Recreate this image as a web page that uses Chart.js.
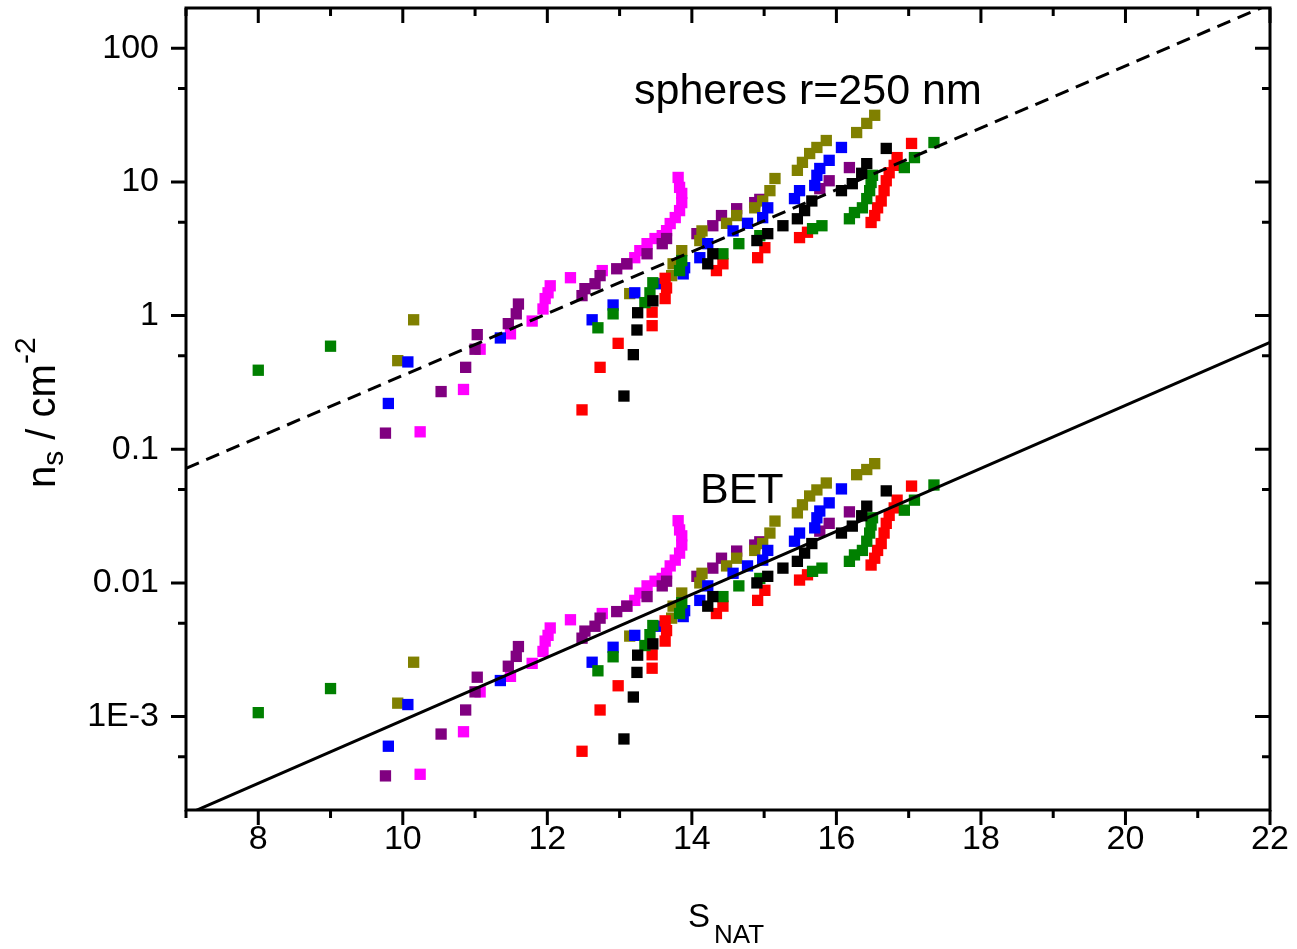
<!DOCTYPE html>
<html>
<head>
<meta charset="utf-8">
<script src="https://cdn.jsdelivr.net/npm/chart.js@4.4.1/dist/chart.umd.min.js"></script>
<style>
  html, body { margin: 0; padding: 0; background: #fff; }
  #wrap { width: 1297px; height: 949px; }
</style>
</head>
<body>
<div id="wrap"><canvas id="chart"></canvas></div>
<script>
// S_NAT values and n_s for spheres (top cluster) and BET (bottom cluster)
const greenX = [8.0, 9.0, 12.7, 12.91, 13.35, 13.42, 13.46, 13.83, 13.86, 14.43, 14.65, 14.94, 15.67, 15.8, 16.18, 16.25, 16.36, 16.42, 16.46, 16.48, 16.5, 16.94, 17.08, 17.35];
const greenSph = [0.39, 0.59, 0.81, 1.03, 1.25, 1.48, 1.76, 2.17, 2.58, 2.9, 3.45, 3.96, 4.47, 4.7, 5.3, 5.9, 6.4, 7.5, 8.6, 9.9, 11.2, 12.8, 15.2, 19.7];
const greenBet = [1.07e-3, 1.62e-3, 2.2e-3, 2.8e-3, 3.4e-3, 4.1e-3, 4.8e-3, 5.9e-3, 7.1e-3, 7.9e-3, 9.5e-3, 0.0108, 0.0122, 0.0129, 0.0145, 0.0162, 0.0175, 0.0205, 0.0236, 0.0271, 0.0307, 0.035, 0.0416, 0.054];

const magentaX = [10.24, 10.84, 11.07, 11.49, 11.79, 11.94, 11.97, 12.01, 12.04, 12.32, 12.76, 13.10, 13.21, 13.28, 13.38, 13.49, 13.59, 13.65, 13.70, 13.77, 13.83, 13.86, 13.86, 13.83, 13.81];
const magentaSph = [0.135, 0.28, 0.56, 0.73, 0.91, 1.12, 1.34, 1.48, 1.67, 1.92, 2.17, 2.44, 2.71, 3.06, 3.45, 3.77, 3.96, 4.32, 4.88, 5.41, 6.1, 7.0, 8.2, 9.1, 10.8];
const magentaBet = [3.7e-4, 7.7e-4, 1.53e-3, 2.0e-3, 2.5e-3, 3.07e-3, 3.67e-3, 4.05e-3, 4.6e-3, 5.3e-3, 5.9e-3, 6.7e-3, 7.4e-3, 8.4e-3, 9.5e-3, 0.0103, 0.0108, 0.0118, 0.0134, 0.0148, 0.0167, 0.0192, 0.0225, 0.0249, 0.0292];

const purpleX = [9.76, 10.53, 10.87, 11.0, 11.03, 11.46, 11.57, 11.6, 12.48, 12.52, 12.66, 12.73, 12.96, 13.10, 13.38, 13.59, 13.65, 14.07, 14.29, 14.41, 14.62, 14.87, 14.94, 15.77, 15.9, 16.18];
const purpleSph = [0.132, 0.27, 0.41, 0.56, 0.72, 0.87, 1.03, 1.22, 1.41, 1.59, 1.73, 1.99, 2.24, 2.44, 2.9, 3.45, 3.77, 4.1, 4.7, 5.6, 6.3, 7.0, 7.4, 8.9, 10.2, 12.8];
const purpleBet = [3.6e-4, 7.4e-4, 1.12e-3, 1.53e-3, 1.97e-3, 2.38e-3, 2.82e-3, 3.34e-3, 3.86e-3, 4.36e-3, 4.74e-3, 5.45e-3, 6.1e-3, 6.7e-3, 7.9e-3, 9.5e-3, 0.0103, 0.0112, 0.0129, 0.0153, 0.0173, 0.0192, 0.0203, 0.0244, 0.0279, 0.034];

const blueX = [9.80, 10.07, 11.35, 12.62, 12.91, 13.21, 13.53, 13.88, 13.9, 14.11, 14.22, 14.57, 14.77, 14.98, 15.05, 15.42, 15.49, 15.70, 15.73, 15.77, 15.9, 16.07];
const blueSph = [0.22, 0.45, 0.68, 0.93, 1.2, 1.48, 1.73, 2.05, 2.28, 2.71, 3.45, 4.3, 4.9, 5.4, 6.4, 7.5, 8.6, 9.4, 11.2, 12.6, 14.5, 18.1];
const blueBet = [6.0e-4, 1.23e-3, 1.86e-3, 2.55e-3, 3.3e-3, 4.05e-3, 4.74e-3, 5.6e-3, 6.2e-3, 7.4e-3, 9.5e-3, 0.0118, 0.0134, 0.0148, 0.0175, 0.0205, 0.0236, 0.0258, 0.0307, 0.0345, 0.0397, 0.0505];

const oliveX = [9.93, 10.15, 13.14, 13.72, 13.74, 13.86, 14.11, 14.14, 14.48, 14.62, 14.87, 14.98, 15.08, 15.15, 15.46, 15.53, 15.63, 15.73, 15.86, 16.28, 16.42, 16.53];
const oliveSph = [0.46, 0.93, 1.46, 1.99, 2.44, 3.06, 3.64, 4.3, 4.9, 5.6, 6.4, 7.2, 8.6, 10.6, 12.2, 14, 16.3, 18.1, 20.4, 23.4, 27.4, 31.5];
const oliveBet = [1.26e-3, 2.55e-3, 4.0e-3, 5.45e-3, 6.7e-3, 8.4e-3, 0.01, 0.0118, 0.0134, 0.0153, 0.0175, 0.0197, 0.0236, 0.029, 0.0334, 0.0384, 0.0447, 0.0496, 0.0559, 0.0645, 0.0705, 0.078];

const blackX = [13.06, 13.19, 13.24, 13.25, 13.46, 14.22, 14.29, 14.9, 15.05, 15.26, 15.46, 15.56, 15.66, 16.07, 16.22, 16.35, 16.42, 16.69];
const blackSph = [0.25, 0.51, 0.78, 1.05, 1.29, 2.44, 2.9, 3.64, 4.1, 4.7, 5.3, 6.1, 7.2, 8.6, 9.7, 11.6, 13.7, 17.8];
const blackBet = [6.8e-4, 1.4e-3, 2.14e-3, 2.88e-3, 3.5e-3, 6.7e-3, 7.9e-3, 0.01, 0.0112, 0.0129, 0.0145, 0.0167, 0.0197, 0.0236, 0.0266, 0.0318, 0.0375, 0.0488];

const redX = [12.48, 12.73, 12.98, 13.45, 13.45, 13.63, 13.65, 13.63, 14.34, 14.43, 14.91, 15.01, 15.49, 15.6, 16.48, 16.53, 16.57, 16.62, 16.66, 16.69, 16.73, 16.8, 16.84, 17.04];
const redSph = [0.197, 0.41, 0.62, 0.84, 1.06, 1.34, 1.61, 1.9, 2.17, 2.44, 2.71, 3.22, 3.83, 4.2, 4.97, 5.6, 6.4, 7.2, 8.6, 10.2, 11.7, 13.3, 15.2, 19.4];
const redBet = [5.5e-4, 1.12e-3, 1.7e-3, 2.3e-3, 2.9e-3, 3.67e-3, 4.4e-3, 5.2e-3, 5.9e-3, 6.7e-3, 7.4e-3, 8.8e-3, 0.0105, 0.0115, 0.0136, 0.0153, 0.0175, 0.0197, 0.0236, 0.0279, 0.032, 0.0364, 0.0416, 0.053];

// fitted lines (end points)
const sphereLineX = [7, 22];
const sphereLineY = [0.072, 214];
const betLineX = [7, 22];
const betLineY = [1.84e-4, 0.63];

// axes
const xMin = 7, xMax = 22;
const yMin = 2e-4, yMax = 200;
const xTicks = [8, 10, 12, 14, 16, 18, 20, 22];
const xMinorTicks = [7, 9, 11, 13, 15, 17, 19, 21];
const yTicks = [1e-3, 0.01, 0.1, 1, 10, 100];
const yTickLabels = ['1E-3', '0.01', '0.1', '1', '10', '100'];
const yMinorTicks = [5e-4, 5e-3, 0.05, 0.5, 5, 50];

const FONT = '"Liberation Sans", Arial, sans-serif';

const series = [
  { color: '#000000', x: blackX, sph: blackSph, bet: blackBet },
  { color: '#008000', x: greenX, sph: greenSph, bet: greenBet },
  { color: '#FF0000', x: redX, sph: redSph, bet: redBet },
  { color: '#0000FF', x: blueX, sph: blueSph, bet: blueBet },
  { color: '#808000', x: oliveX, sph: oliveSph, bet: oliveBet },
  { color: '#800080', x: purpleX, sph: purpleSph, bet: purpleBet },
  { color: '#FF00FF', x: magentaX, sph: magentaSph, bet: magentaBet }
];

function toPoints(xs, ys) {
  return xs.map((x, i) => ({ x: x, y: ys[i] }));
}

const datasets = [
  {
    type: 'line', data: toPoints(sphereLineX, sphereLineY),
    borderColor: '#000', borderWidth: 3, borderDash: [14, 8],
    pointRadius: 0, fill: false
  },
  {
    type: 'line', data: toPoints(betLineX, betLineY),
    borderColor: '#000', borderWidth: 3,
    pointRadius: 0, fill: false
  }
];
series.forEach(s => {
  [s.sph, s.bet].forEach(ys => {
    datasets.push({
      type: 'scatter',
      data: toPoints(s.x, ys),
      pointStyle: 'rect',
      pointRadius: 8,
      pointBorderWidth: 0,
      backgroundColor: s.color,
      borderColor: s.color
    });
  });
});

function drawPieces(ctx, pieces, x, y) {
  pieces.forEach(p => {
    ctx.font = p.size + 'px ' + FONT;
    ctx.fillText(p.t, x, y + (p.dy || 0));
    x += ctx.measureText(p.t).width;
  });
}

const framePlugin = {
  id: 'frame',
  afterDraw(chart) {
    const ctx = chart.ctx;
    const a = chart.chartArea;
    const xs = chart.scales.x, ys = chart.scales.y;
    ctx.save();
    ctx.strokeStyle = '#000';
    ctx.lineWidth = 3;
    ctx.beginPath();
    xTicks.concat(xMinorTicks).forEach(v => {
      const len = xTicks.includes(v) ? 15 : 8;
      const px = xs.getPixelForValue(v);
      ctx.moveTo(px, a.bottom); ctx.lineTo(px, a.bottom + len);
      ctx.moveTo(px, a.top); ctx.lineTo(px, a.top + len);
    });
    yTicks.concat(yMinorTicks).forEach(v => {
      const len = yTicks.includes(v) ? 15 : 8;
      const py = ys.getPixelForValue(v);
      ctx.moveTo(a.left, py); ctx.lineTo(a.left - len, py);
      ctx.moveTo(a.right, py); ctx.lineTo(a.right - len, py);
    });
    ctx.stroke();
    ctx.strokeRect(a.left, a.top, a.right - a.left, a.bottom - a.top);

    ctx.fillStyle = '#000';
    ctx.textBaseline = 'alphabetic';
    ctx.textAlign = 'left';
    // annotations
    ctx.font = '43px ' + FONT;
    ctx.fillText('spheres r=250 nm', 634, 104);
    ctx.fillText('BET', 700, 503);
    // x title
    drawPieces(ctx, [{ t: 'S', size: 33 }], 688, 927);
    drawPieces(ctx, [{ t: 'NAT', size: 26 }], 714, 943);
    // y title
    ctx.translate(55, 488);
    ctx.rotate(-Math.PI / 2);
    drawPieces(ctx, [
      { t: 'n', size: 40 },
      { t: 's', size: 30, dy: 8 },
      { t: ' / cm', size: 40 },
      { t: '-2', size: 30, dy: -20 }
    ], 0, 0);
    ctx.restore();
  }
};

new Chart(document.getElementById('chart'), {
  data: { datasets: datasets },
  options: {
    responsive: true,
    maintainAspectRatio: false,
    animation: false,
    layout: { padding: { top: 8, right: 27, left: 0, bottom: 0 } },
    plugins: { legend: { display: false }, tooltip: { enabled: false } },
    scales: {
      x: {
        type: 'linear', min: xMin, max: xMax,
        grid: { display: false }, border: { display: false },
        afterBuildTicks: s => { s.ticks = xTicks.map(v => ({ value: v })); },
        afterFit: s => { s.height = 139; s.paddingLeft = 0; s.paddingRight = 0; },
        ticks: {
          autoSkip: false, maxRotation: 0, padding: 1,
          color: '#000', font: { family: FONT, size: 34 },
          callback: v => String(v)
        }
      },
      y: {
        type: 'logarithmic', min: yMin, max: yMax,
        grid: { display: false }, border: { display: false },
        afterBuildTicks: s => { s.ticks = yTicks.map(v => ({ value: v })); },
        afterFit: s => { s.width = 186; s.paddingTop = 0; s.paddingBottom = 0; },
        ticks: {
          autoSkip: false, padding: 19,
          color: '#000', font: { family: FONT, size: 34 },
          callback: (v, i) => yTickLabels[i]
        }
      }
    }
  },
  plugins: [framePlugin]
});
</script>
</body>
</html>
